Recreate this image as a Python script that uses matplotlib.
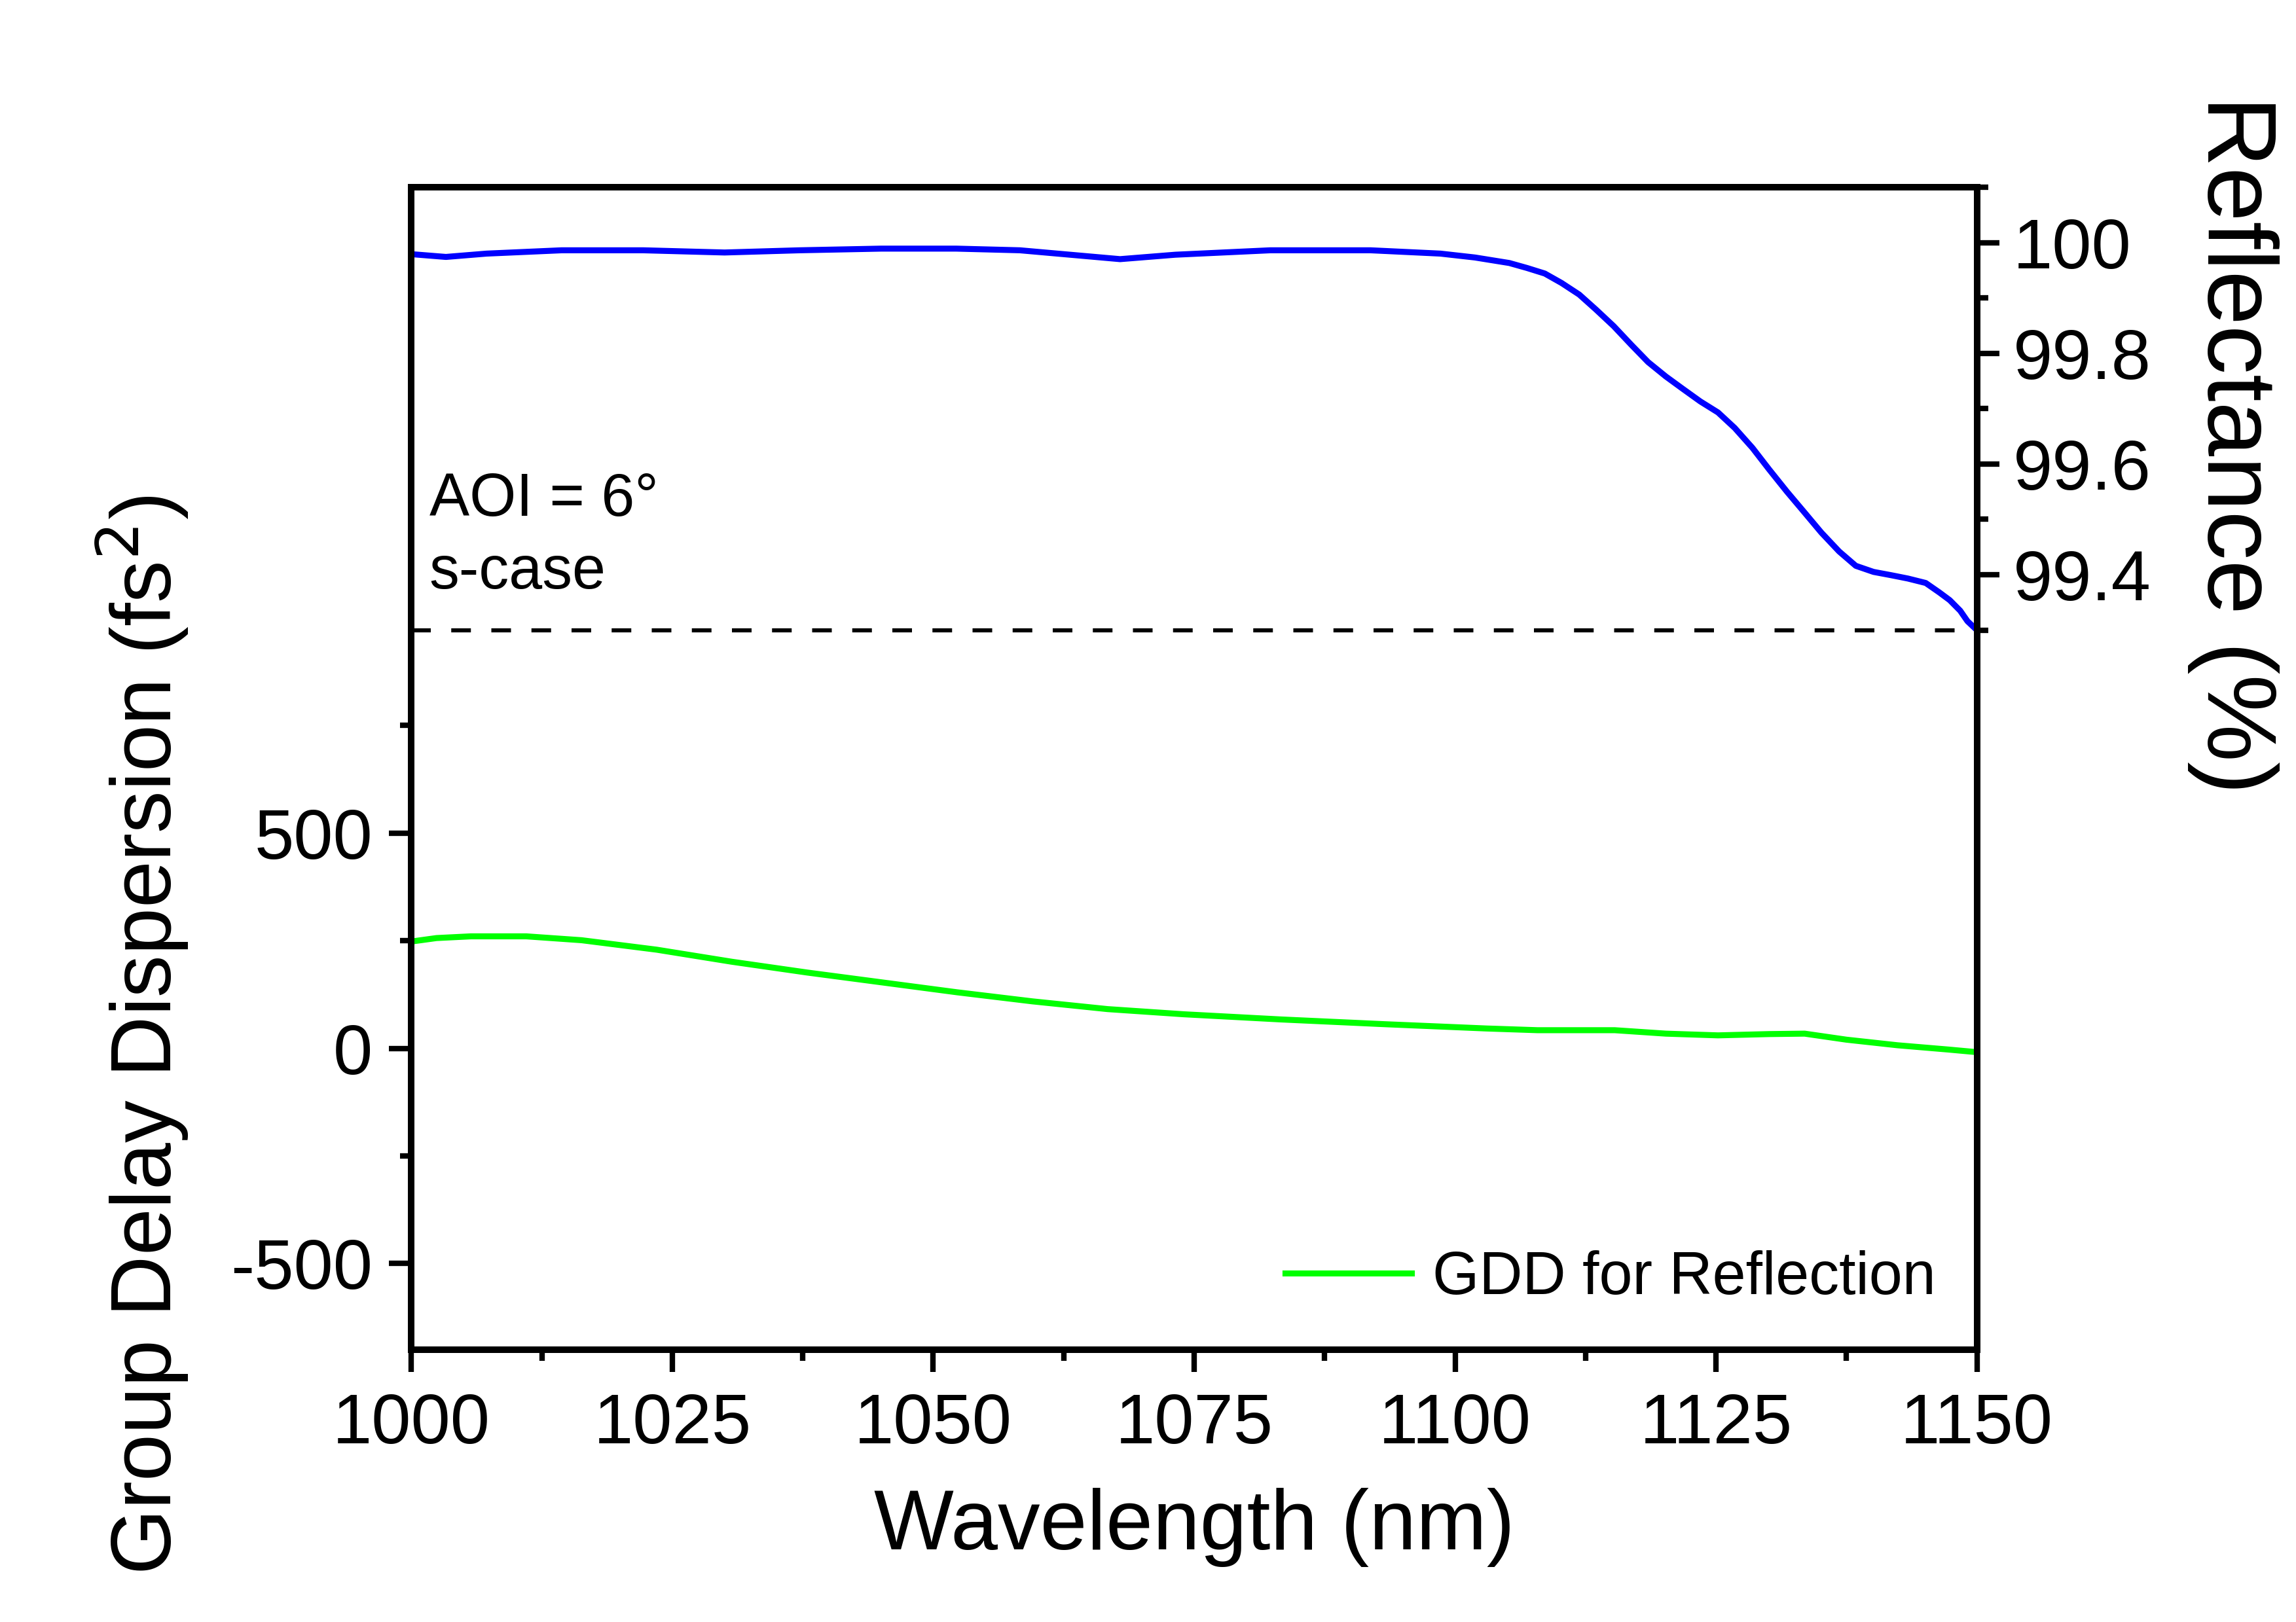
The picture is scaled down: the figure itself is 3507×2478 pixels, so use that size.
import numpy as np
import matplotlib
matplotlib.use('Agg')
import matplotlib.pyplot as plt
from matplotlib.ticker import FixedLocator

plt.rcParams['font.family'] = ['Liberation Sans', 'DejaVu Sans']

# Reflectance curve (right axis)
wl_refl = [1000.0, 1003.3, 1007.2, 1014.4, 1022.2, 1030.0, 1037.2, 1045.0, 1052.2,
           1058.3, 1064.3, 1067.9, 1073.2, 1082.3, 1091.9, 1098.6, 1101.9, 1105.2,
           1106.9, 1108.6, 1110.2, 1111.9, 1113.5, 1115.2, 1116.9, 1118.5, 1120.2,
           1121.8, 1123.5, 1125.2, 1126.8, 1128.5, 1130.1, 1131.8, 1133.5, 1135.1,
           1136.8, 1138.4, 1140.1, 1141.8, 1143.4, 1145.1, 1146.4, 1147.4, 1148.4,
           1149.1, 1150.0]
refl = [99.979, 99.974, 99.980, 99.986, 99.986, 99.982, 99.986, 99.989, 99.989,
        99.986, 99.976, 99.970, 99.978, 99.986, 99.986, 99.980, 99.973, 99.963,
        99.954, 99.944, 99.927, 99.906, 99.879, 99.849, 99.815, 99.784, 99.758,
        99.736, 99.713, 99.693, 99.665, 99.629, 99.590, 99.550, 99.512, 99.476,
        99.442, 99.416, 99.405, 99.399, 99.393, 99.385, 99.368, 99.354, 99.335,
        99.316, 99.300]

# GDD curve (left axis)
wl_gdd = [1000.0, 1002.4, 1005.7, 1011.0, 1016.3, 1023.5, 1030.7, 1037.9, 1045.1,
          1052.3, 1059.5, 1066.7, 1074.0, 1083.3, 1093.2, 1103.0, 1107.9, 1115.3,
          1120.2, 1125.2, 1130.1, 1133.5, 1137.5, 1142.4, 1147.3, 1150.0]
gdd = [248, 256, 260, 260, 251, 229, 201, 176, 153,
       130, 109, 91, 79, 67, 56, 46, 42, 42,
       34, 30, 33, 34, 20, 7, -3, -9]

refl_limit = 99.3

x_major = [1000, 1025, 1050, 1075, 1100, 1125, 1150]
gdd_major = [-500, 0, 500]
gdd_minor = [-250, 250, 750]
refl_major = [99.4, 99.6, 99.8, 100.0]
refl_minor = [99.3, 99.5, 99.7, 99.9, 100.1]
refl_labels = ['99.4', '99.6', '99.8', '100']

fig = plt.figure(figsize=(11.69, 8.26), dpi=300)
ax = fig.add_axes([0.1792, 0.1679, 0.6818, 0.7167])
ax2 = ax.twinx()

ax.plot(wl_gdd, gdd, color='#00ff00', lw=2.2, label='GDD for Reflection')
ax2.plot(wl_refl, refl, color='#0000ff', lw=2.2)
ax2.hlines(refl_limit, 1000, 1150, colors='black', lw=1.5, linestyles=(0, (4.8, 5)))

ax.set_xlim(1000, 1150)
ax.set_ylim(-700, 2000)
ax2.set_ylim(98.0, 100.1)

ax.xaxis.set_major_locator(FixedLocator(x_major))
ax.xaxis.set_minor_locator(FixedLocator([v + 12.5 for v in x_major[:-1]]))
ax.yaxis.set_major_locator(FixedLocator(gdd_major))
ax.yaxis.set_minor_locator(FixedLocator(gdd_minor))
ax.set_yticklabels(['-500', '0', '500'])
ax2.yaxis.set_major_locator(FixedLocator(refl_major))
ax2.yaxis.set_minor_locator(FixedLocator(refl_minor))
ax2.set_yticklabels(refl_labels)

for a in (ax, ax2):
    for s in a.spines.values():
        s.set_linewidth(2.4)
ax.tick_params(which='major', direction='out', length=8.2, width=2, labelsize=26, pad=7.5)
ax.tick_params(which='minor', direction='out', length=4, width=2)
ax.tick_params(axis='y', which='major', pad=6)
ax2.tick_params(which='major', direction='out', length=8.2, width=2, labelsize=26, pad=5)
ax2.tick_params(which='minor', direction='out', length=4, width=2)

ax.set_xlabel('Wavelength (nm)', fontsize=31, labelpad=11)
fig.text(0.0619, 0.3617, 'Group Delay Dispersion (fs$^2$)', fontsize=31,
         rotation=90, ha='center', va='center')
fig.text(0.9725, 0.726, 'Reflectance (%)', fontsize=36,
         rotation=270, ha='center', va='center')

ax2.text(1001.7, 99.506, 'AOI = 6°', fontsize=22, va='baseline', ha='left')
ax2.text(1001.7, 99.375, 's-case', fontsize=22, va='baseline', ha='left')

ax.legend(loc='lower right', bbox_to_anchor=(0.9737, 0.0372), frameon=False,
          fontsize=22, handlelength=2.1, handletextpad=0.35, borderpad=0,
          borderaxespad=0)

plt.savefig('out.png', dpi=300)
plt.close()
